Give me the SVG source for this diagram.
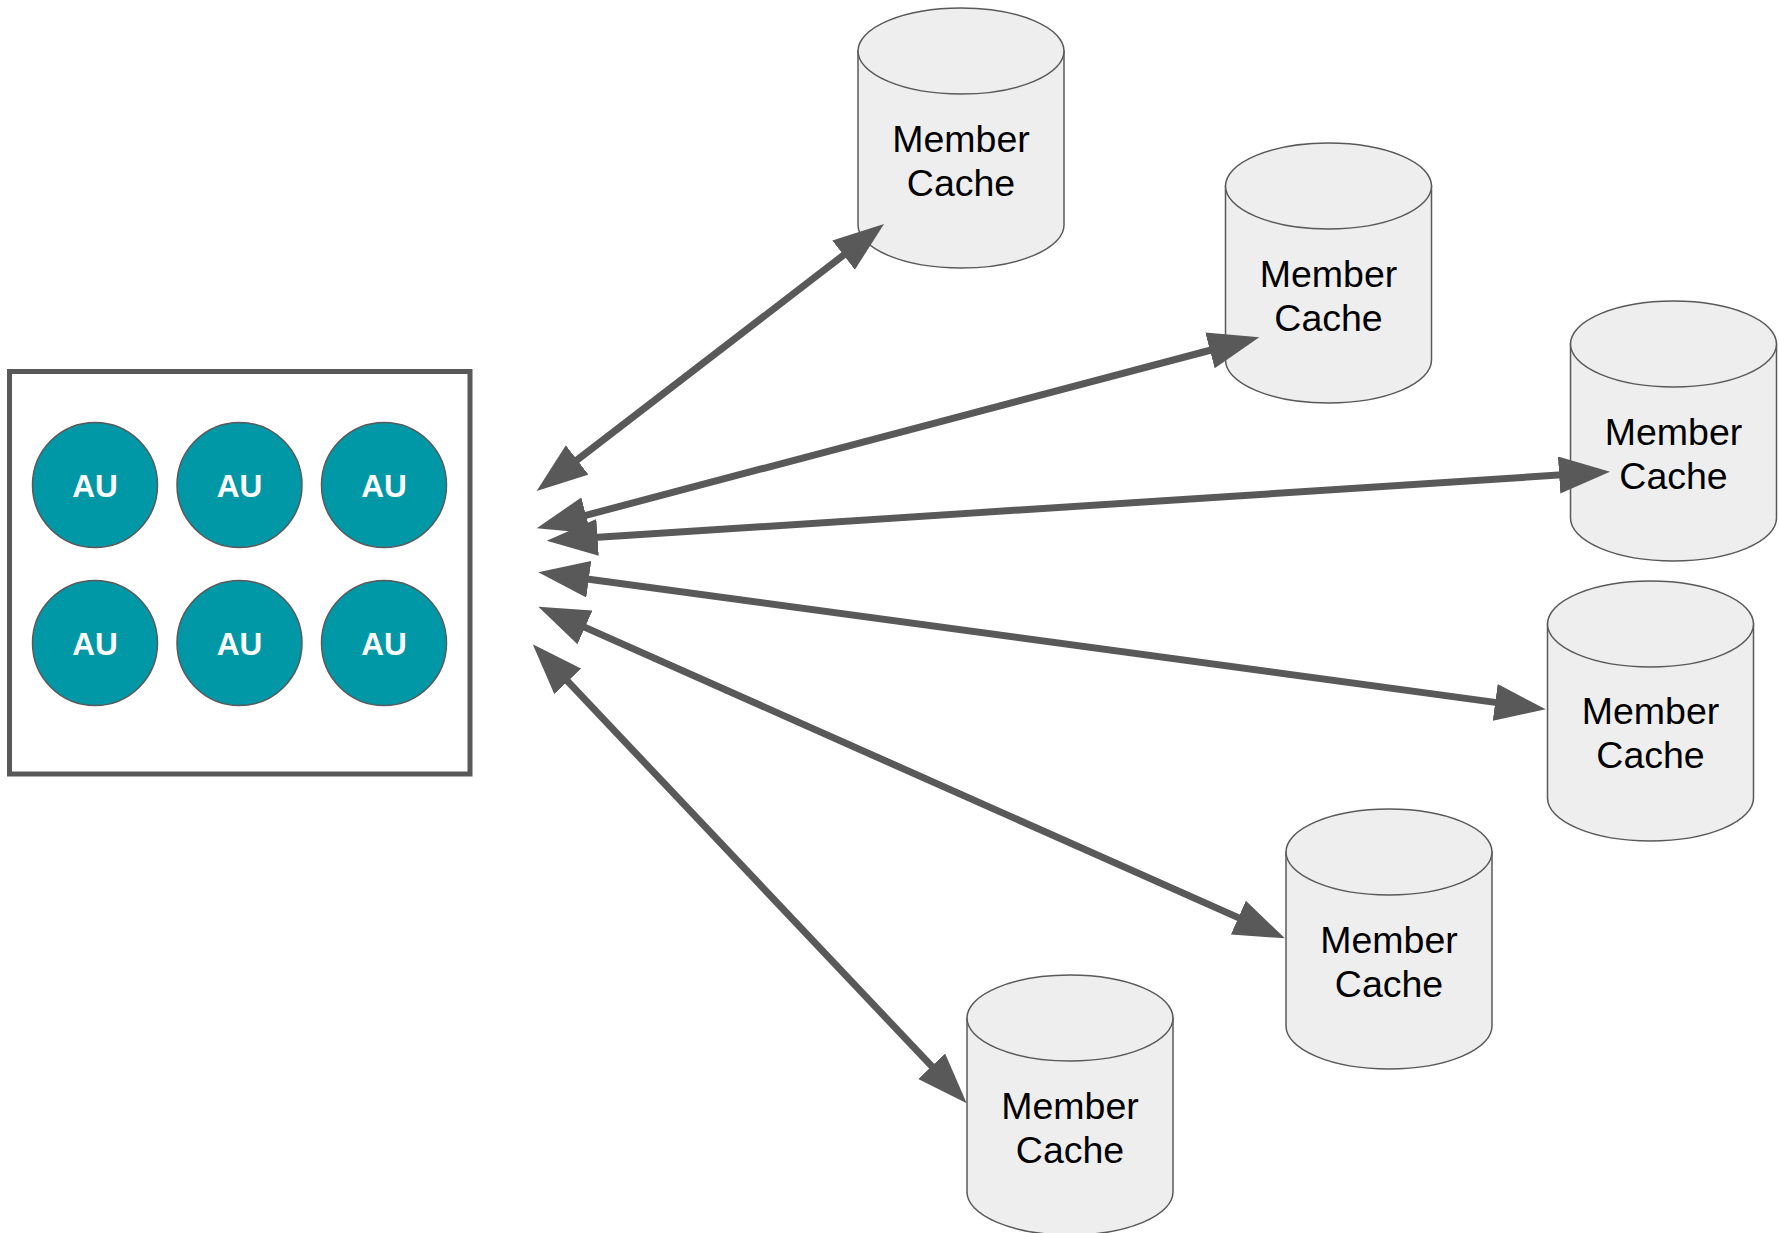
<svg xmlns="http://www.w3.org/2000/svg" width="1779" height="1233" viewBox="0 0 1779 1233">
  <defs>
    <marker id="head" markerUnits="userSpaceOnUse" markerWidth="52" markerHeight="38" viewBox="0 0 52 38" refX="11" refY="18.5" orient="auto-start-reverse">
      <path d="M0,0 L51,18.5 L0,37 Z" fill="#595959" stroke="none"/>
    </marker>
  </defs>
  <rect width="1779" height="1233" fill="#ffffff"/>

  <g id="container">
    <rect x="9.5" y="371.5" width="460.5" height="402.5" fill="#ffffff" stroke="#595959" stroke-width="5"/>
  </g>
  <g fill="#0097a7" stroke="#595959" stroke-width="1.5" font-family="Liberation Sans, Arial, sans-serif" font-weight="bold" font-size="31.5" text-anchor="middle">
    <g id="au1"><circle cx="95" cy="485" r="62.5"/><text x="95" y="496.5" fill="#ffffff" stroke="none">AU</text></g>
    <g id="au2"><circle cx="239.5" cy="485" r="62.5"/><text x="239.5" y="496.5" fill="#ffffff" stroke="none">AU</text></g>
    <g id="au3"><circle cx="384" cy="485" r="62.5"/><text x="384" y="496.5" fill="#ffffff" stroke="none">AU</text></g>
    <g id="au4"><circle cx="95" cy="643" r="62.5"/><text x="95" y="654.5" fill="#ffffff" stroke="none">AU</text></g>
    <g id="au5"><circle cx="239.5" cy="643" r="62.5"/><text x="239.5" y="654.5" fill="#ffffff" stroke="none">AU</text></g>
    <g id="au6"><circle cx="384" cy="643" r="62.5"/><text x="384" y="654.5" fill="#ffffff" stroke="none">AU</text></g>
  </g>

  <g fill="#eeeeee" stroke="#595959" stroke-width="1.5" font-family="Liberation Sans, Arial, sans-serif" font-size="37.5" text-anchor="middle">
    <g id="cache1">
      <path d="M858,51 L858,225 A103,43 0 0 0 1064,225 L1064,51 Z"/>
      <ellipse cx="961" cy="51" rx="103" ry="43"/>
      <text x="961" y="151.5" fill="#000000" stroke="none">Member</text>
      <text x="961" y="195.5" fill="#000000" stroke="none">Cache</text>
    </g>
    <g id="cache2">
      <path d="M1225.5,186 L1225.5,360 A103,43 0 0 0 1431.5,360 L1431.5,186 Z"/>
      <ellipse cx="1328.5" cy="186" rx="103" ry="43"/>
      <text x="1328.5" y="286.5" fill="#000000" stroke="none">Member</text>
      <text x="1328.5" y="330.5" fill="#000000" stroke="none">Cache</text>
    </g>
    <g id="cache3">
      <path d="M1570.5,344 L1570.5,518 A103,43 0 0 0 1776.5,518 L1776.5,344 Z"/>
      <ellipse cx="1673.5" cy="344" rx="103" ry="43"/>
      <text x="1673.5" y="444.5" fill="#000000" stroke="none">Member</text>
      <text x="1673.5" y="488.5" fill="#000000" stroke="none">Cache</text>
    </g>
    <g id="cache4">
      <path d="M1547.5,624 L1547.5,798 A103,43 0 0 0 1753.5,798 L1753.5,624 Z"/>
      <ellipse cx="1650.5" cy="624" rx="103" ry="43"/>
      <text x="1650.5" y="723.5" fill="#000000" stroke="none">Member</text>
      <text x="1650.5" y="767.5" fill="#000000" stroke="none">Cache</text>
    </g>
    <g id="cache5">
      <path d="M1286,852 L1286,1026 A103,43 0 0 0 1492,1026 L1492,852 Z"/>
      <ellipse cx="1389" cy="852" rx="103" ry="43"/>
      <text x="1389" y="952.5" fill="#000000" stroke="none">Member</text>
      <text x="1389" y="996.5" fill="#000000" stroke="none">Cache</text>
    </g>
    <g id="cache6">
      <path d="M967,1018 L967,1192 A103,43 0 0 0 1173,1192 L1173,1018 Z"/>
      <ellipse cx="1070" cy="1018" rx="103" ry="43"/>
      <text x="1070" y="1118.5" fill="#000000" stroke="none">Member</text>
      <text x="1070" y="1162.5" fill="#000000" stroke="none">Cache</text>
    </g>
  </g>

  <g id="connectors" stroke="#595959" stroke-width="7" fill="none" marker-start="url(#head)" marker-end="url(#head)">
    <line x1="568.4" y1="466.6" x2="852.3" y2="248.4"/>
    <line x1="575.4" y1="518.1" x2="1220.6" y2="347.5"/>
    <line x1="586.6" y1="538.1" x2="1570.1" y2="474.3"/>
    <line x1="577.9" y1="577.7" x2="1506.1" y2="703.9"/>
    <line x1="574.9" y1="622.9" x2="1248.4" y2="922.1"/>
    <line x1="560.2" y1="673.4" x2="939.2" y2="1074.2"/>
  </g>
</svg>
